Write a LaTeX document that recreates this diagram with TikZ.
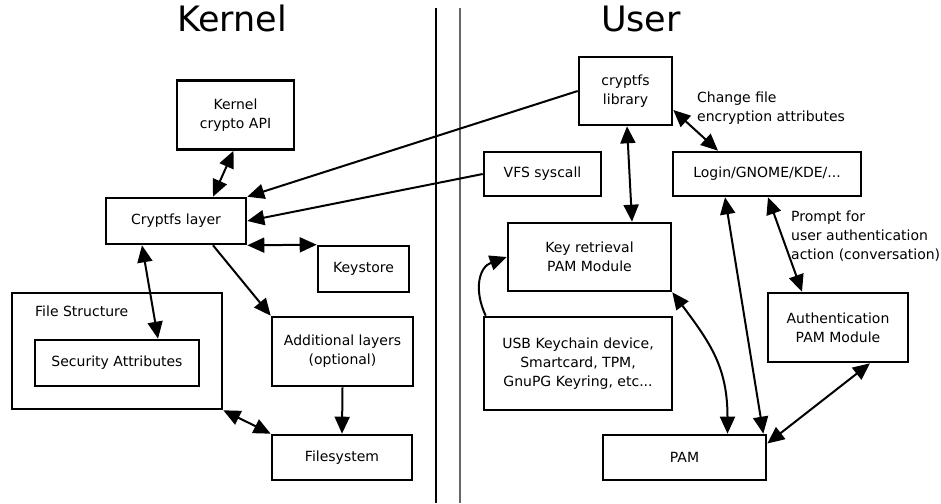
\documentclass[tikz,border=0pt]{standalone}
\usepackage{fontspec}
\setmainfont{DejaVu Sans}
\usetikzlibrary{arrows.meta}
\begin{document}
\begin{tikzpicture}[x=1pt,y=-1pt,
  >={Triangle[length=17pt,width=15pt]},
  box/.style={draw,line width=2.6pt,inner sep=0pt,align=center,font=\fontsize{14}{19}\selectfont},
  lbl/.style={inner sep=0pt,align=left,anchor=west,font=\fontsize{14}{19}\selectfont},
  link/.style={line width=2pt},
  title/.style={anchor=base,inner sep=0pt,font=\fontsize{35}{40}\selectfont}]
\useasboundingbox (0,0) rectangle (941,503);
\node[title] (kerneltitle) at (232,32) {Kernel};
\node[title] (usertitle) at (641,32) {User};
\draw[line width=1.5pt] (436,8) -- (436,503);
\draw[line width=2pt,black!60] (460,8) -- (460,503);
\node[box,minimum width=117pt,minimum height=69pt] (kapi) at (235.5,115) {Kernel\\crypto API};
\node[box,minimum width=140pt,minimum height=46pt] (layer) at (176,221) {Cryptfs layer};
\node[box,minimum width=91pt,minimum height=46pt] (keystore) at (363.5,269) {Keystore};
\node[box,minimum width=210pt,minimum height=116pt] (filestruct) at (117,351) {};
\node[lbl] (fslabel) at (35,311) {File Structure};
\node[box,minimum width=164pt,minimum height=46pt] (secattr) at (117,363) {Security Attributes};
\node[box,minimum width=141pt,minimum height=69pt] (addl) at (342.5,351.5) {Additional layers\\(optional)};
\node[box,minimum width=140pt,minimum height=45pt] (fsys) at (342,457.5) {Filesystem};
\node[box,minimum width=93pt,minimum height=68pt] (cryptlib) at (625.5,91) {cryptfs\\library};
\node[box,minimum width=117pt,minimum height=44pt] (vfs) at (542.5,174) {VFS syscall};
\node[box,minimum width=188pt,minimum height=44pt] (login) at (767,174) {Login/GNOME/KDE/...};
\node[box,minimum width=163pt,minimum height=68pt] (keyret) at (589.5,257) {Key retrieval\\PAM Module};
\node[box,minimum width=140pt,minimum height=69pt] (authpam) at (838,327.5) {Authentication\\PAM Module};
\node[box,minimum width=188pt,minimum height=93pt] (usb) at (578,363.5) {USB Keychain device,\\Smartcard, TPM,\\GnuPG Keyring, etc...};
\node[box,minimum width=163pt,minimum height=45pt] (pam) at (684.5,457.5) {PAM};
\node[lbl] (lblchange) at (697,108.5) {Change file\\encryption attributes};
\node[lbl] (lblprompt) at (791,236) {Prompt for\\user authentication\\action (conversation)};
\draw[link,<->] ([xshift=-2pt]kapi.south) -- ([xshift=37pt]layer.north);
\draw[link,->] (cryptlib.west) -- (layer.north east);
\draw[link,->] (vfs.west) -- (layer.east);
\draw[link,<->] (layer.south east) -- (keystore.north west);
\draw[link,<->] ([xshift=-34pt]layer.south) -- ([xshift=41pt]secattr.north);
\draw[link,->] ([xshift=37pt]layer.south) -- (addl.north west);
\draw[link,->] (addl.south) -- (fsys.north);
\draw[link,<->] (filestruct.south east) -- (fsys.north west);
\draw[link,<->] ([xshift=1.5pt]cryptlib.south) -- ([xshift=42.5pt]keyret.north);
\draw[link,<->] ([yshift=-19pt]cryptlib.east) -- ([xshift=-49pt]login.north);
\draw[link,<->] ([xshift=-42pt]login.south) -- ([xshift=-4pt]pam.north east);
\draw[link,<->] ([xshift=1pt]login.south) -- ([xshift=-36pt]authpam.north);
\draw[link,<->] (keyret.south east) to[out=-53,in=90,looseness=1.1] ([xshift=43pt]pam.north);
\draw[link,<->] ([xshift=32pt]authpam.south) -- ([yshift=14pt]pam.east);
\draw[link,->] ([xshift=3pt]usb.north west) to[out=115,in=200,looseness=1.2] (keyret.west);
\end{tikzpicture}
\end{document}
